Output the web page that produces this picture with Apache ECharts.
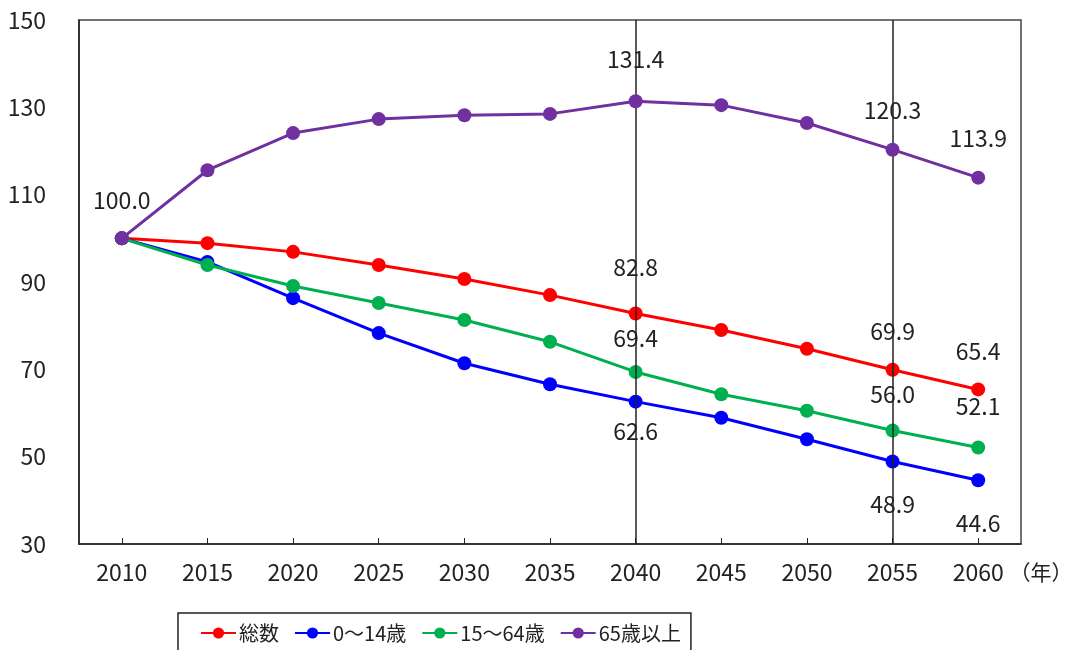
<!DOCTYPE html>
<html>
<head>
<meta charset="utf-8">
<script src="https://cdn.jsdelivr.net/npm/echarts@6/dist/echarts.min.js"></script>
<style>html,body{margin:0;padding:0;background:#fff;}#c{width:1072px;height:650px;}</style>
</head>
<body>
<div id="c"></div>
<script>
const years = ['2010','2015','2020','2025','2030','2035','2040','2045','2050','2055','2060'];
const seriesNames = ['総数','0～14歳','15～64歳','65歳以上'];
const total   = [100.0, 98.9, 96.9, 93.9, 90.7, 87.0, 82.8, 79.0, 74.7, 69.9, 65.4];
const age0_14 = [100.0, 94.6, 86.3, 78.3, 71.4, 66.6, 62.6, 58.9, 54.0, 48.9, 44.6];
const age15_64= [100.0, 93.9, 89.1, 85.2, 81.3, 76.3, 69.4, 64.3, 60.5, 56.0, 52.1];
const age65   = [100.0, 115.6, 124.1, 127.3, 128.2, 128.5, 131.4, 130.5, 126.4, 120.3, 113.9];
const yTicks = {min: 30, max: 150, interval: 20};
const markYears = ['2040','2055'];

const FONT = "'Noto Sans CJK JP', sans-serif";
const colors = ['#FF0000','#0000FF','#00B050','#7030A0'];

// which points get labels: index -> [position, distance]
const labelCfg = [
  {6:['top',28], 9:['top',20], 10:['top',20]},
  {6:['bottom',11], 9:['bottom',24], 10:['bottom',25]},
  {6:['top',15], 9:['top',18], 10:['top',23]},
  {0:['top',20], 6:['top',23], 9:['top',21], 10:['top',21]}
];
const allData = [total, age0_14, age15_64, age65];

function build(i){
  return allData[i].map((v, k) => {
    const c = labelCfg[i][k];
    if (!c) return v;
    return {value: v, label: {show: true, position: c[0], distance: c[1],
      formatter: (p) => p.value.toFixed(1), fontSize: 23, fontFamily: FONT, color: '#222'}};
  });
}

const series = seriesNames.map((n, i) => ({
  name: n, type: 'line', data: build(i),
  symbol: 'circle', symbolSize: 14,
  lineStyle: {width: 3, color: colors[i]},
  itemStyle: {color: colors[i]},
  label: {show: false},
  z: 2 + i
}));
series[0].markLine = {
  silent: true, symbol: ['none','none'], label: {show: false},
  lineStyle: {color: '#222', width: 1.5, type: 'solid'},
  data: markYears.map(y => ({xAxis: y}))
};

const chart = echarts.init(document.getElementById('c'));
chart.setOption({
  animation: false,
  backgroundColor: '#fff',
  color: colors,
  grid: {left: 79, right: 51, top: 20, bottom: 106, show: true, borderColor: '#444', borderWidth: 1.5,
         containLabel: false, outerBoundsMode: 'none'},
  xAxis: {
    type: 'category', data: years, boundaryGap: true,
    axisLine: {lineStyle: {color: '#222', width: 1.5}},
    axisTick: {show: true, alignWithLabel: true, inside: true, length: 6, lineStyle: {color: '#222'}},
    axisLabel: {fontSize: 23, fontFamily: FONT, color: '#222', margin: 17, interval: 0},
    name: '（年）', nameLocation: 'end', nameGap: -12,
    nameTextStyle: {fontSize: 21, fontFamily: FONT, color: '#222', verticalAlign: 'top', padding: [18,0,0,0]}
  },
  yAxis: {
    type: 'value', min: yTicks.min, max: yTicks.max, interval: yTicks.interval,
    axisLine: {show: true, lineStyle: {color: '#222', width: 1.5}},
    axisTick: {show: false},
    splitLine: {show: false},
    axisLabel: {fontSize: 23, fontFamily: FONT, color: '#222', margin: 33}
  },
  legend: {
    data: seriesNames, left: 178, top: 613, orient: 'horizontal',
    itemWidth: 35, itemHeight: 14, itemGap: 15,
    padding: [10, 10, 14, 22],
    borderColor: '#222', borderWidth: 1.5,
    textStyle: {fontSize: 20, fontFamily: FONT, color: '#222', padding: [0,0,0,-2]}
  },
  series: series
});
</script>
</body>
</html>
